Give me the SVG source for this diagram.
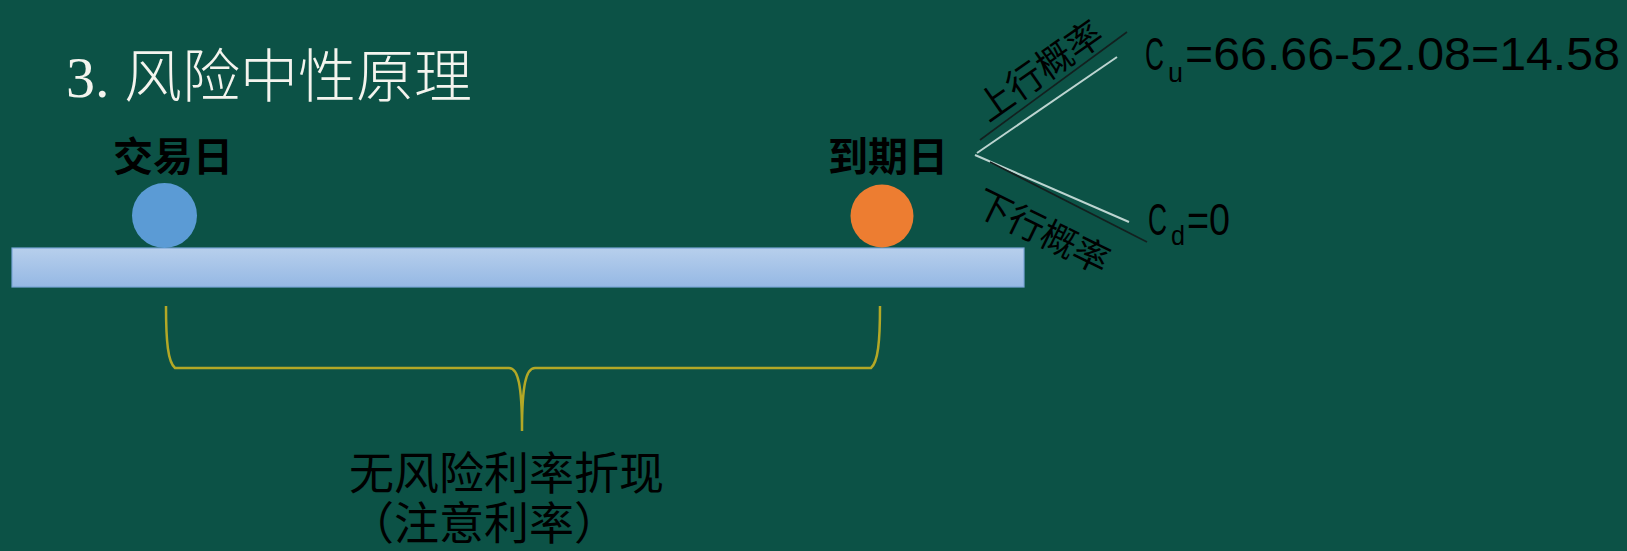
<svg xmlns="http://www.w3.org/2000/svg" width="1627" height="551" viewBox="0 0 1627 551">
  <defs>
    <linearGradient id="barGrad" x1="0" y1="0" x2="0" y2="1">
      <stop offset="0" stop-color="#b7cfec"/>
      <stop offset="1" stop-color="#95b8e4"/>
    </linearGradient>
    <style>
      .cjk { font-family: "Noto Sans CJK SC", "Noto Sans", sans-serif; fill: #000; }
      .lbl { font-size: 40px; font-weight: bold; }
      .prob { font-size: 36px; }
      .math { font-family: "Liberation Sans", "DejaVu Sans", sans-serif; fill: #000; }
      .dark { stroke: #13201f; stroke-width: 1.6; fill: none; }
      .light { stroke: #bcd4d0; stroke-width: 2; fill: none; }
    </style>
  </defs>
  <rect x="0" y="0" width="1627" height="551" fill="#0c5246"/>

  <g id="title">
    <text x="66" y="97" font-family="Liberation Serif, Noto Sans CJK SC, serif" font-size="58" fill="#f4f4ee">3. <tspan font-family="Noto Sans CJK SC, sans-serif" font-weight="300">风险中性原理</tspan></text>
  </g>

  <g id="timeline-bar">
    <rect x="12" y="248" width="1012" height="39" fill="url(#barGrad)" stroke="#7aa6d8" stroke-width="1.2"/>
  </g>

  <g id="trade-day">
    <circle cx="164.5" cy="215.5" r="32.5" fill="#5b9bd5"/>
    <text class="cjk lbl" x="113" y="171">交易日</text>
  </g>

  <g id="expiry-day">
    <circle cx="882" cy="216" r="31.5" fill="#ed7d31"/>
    <text class="cjk lbl" x="828" y="171">到期日</text>
  </g>

  <g id="connectors">
    <line class="dark" x1="980" y1="140" x2="1127" y2="32"/>
    <line class="light" x1="977" y1="153" x2="1117" y2="57"/>
    <line class="light" x1="975" y1="155" x2="1129" y2="222"/>
    <line class="dark" x1="990" y1="162" x2="1147" y2="242"/>
    <path d="M166,306 C166,342 168,362 175,368 L509,368 C518,368 522,385 522,431 C522,385 526,368 535,368 L871,368 C878,362 880,342 880,306" fill="none" stroke="#b3a826" stroke-width="2.5"/>
  </g>

  <g id="up-prob">
    <text class="cjk prob" x="1038" y="68" text-anchor="middle" dominant-baseline="central" transform="rotate(-35 1038 68)">上行概率</text>
  </g>

  <g id="down-prob">
    <text class="cjk prob" x="1044" y="229" text-anchor="middle" dominant-baseline="central" transform="rotate(26 1044 229)">下行概率</text>
  </g>

  <g id="cu">
    <text class="math" x="1145" y="70" font-size="46" textLength="19" lengthAdjust="spacingAndGlyphs">C</text>
    <text class="math" x="1168" y="82" font-size="28" textLength="15" lengthAdjust="spacingAndGlyphs">u</text>
    <text class="math" x="1185" y="70" font-size="46" textLength="435" lengthAdjust="spacingAndGlyphs">=66.66-52.08=14.58</text>
  </g>

  <g id="cd">
    <text class="math" x="1148" y="235" font-size="45" textLength="19" lengthAdjust="spacingAndGlyphs">C</text>
    <text class="math" x="1171" y="245" font-size="28" textLength="14" lengthAdjust="spacingAndGlyphs">d</text>
    <text class="math" x="1187" y="235" font-size="45" textLength="43" lengthAdjust="spacingAndGlyphs">=0</text>
  </g>

  <g id="discount-label">
    <text class="cjk" x="349" y="490" font-size="45">无风险利率折现</text>
    <text class="cjk" x="349" y="540" font-size="45">（注意利率）</text>
  </g>
</svg>
